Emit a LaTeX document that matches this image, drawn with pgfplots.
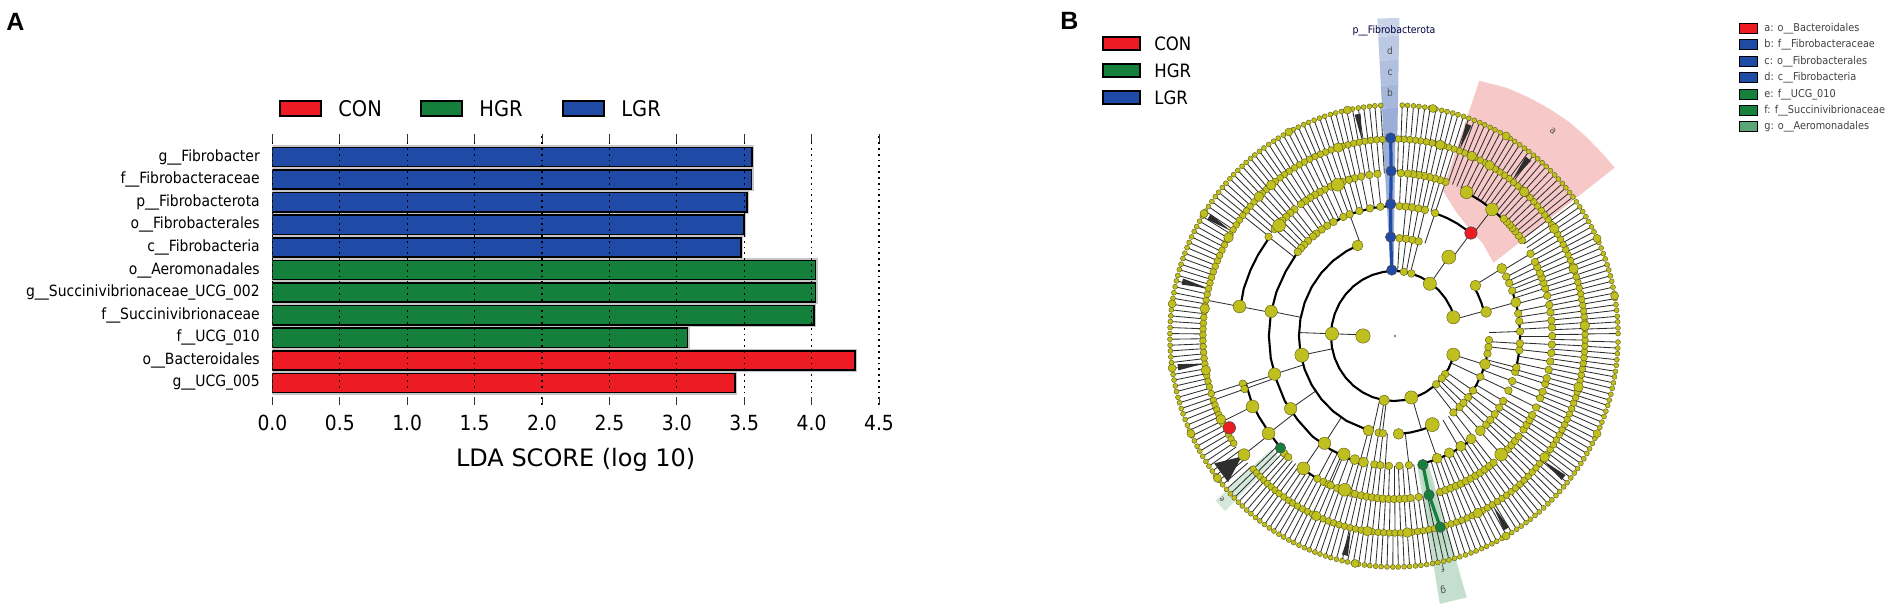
\documentclass[border=0pt]{standalone}
\usepackage{fontspec}
\setmainfont{DejaVu Sans Condensed}
\newfontfamily\panelfont{Liberation Sans}
\newfontfamily\regfont{DejaVu Sans}
\usepackage{pgfplots}
\pgfplotsset{compat=1.18}
\definecolor{con}{HTML}{ED1C24}
\definecolor{hgr}{HTML}{15803C}
\definecolor{lgr}{HTML}{1F4AA5}
\definecolor{yel}{HTML}{BFBF1F}
\definecolor{yeld}{HTML}{5A5A10}
\definecolor{pinkw}{HTML}{F6C8C8}
\definecolor{spk}{HTML}{2E2E2E}
\newcommand{\fs}[1]{\fontsize{#1}{#1}\selectfont}
\pgfplotsset{
 spoke/.style={spk,line width=0.42pt,forget plot,data cs=polar,mark=none},
 arcl/.style={black,line width=1.05pt,forget plot,data cs=polar,mark=none},
 nd/.style={only marks,forget plot,data cs=polar,mark=*,mark size=#1,mark options={fill=yel,draw=yeld,line width=0.2pt}},
 wedge/.style={draw=none,fill=#1,forget plot,data cs=polar,mark=none},
}
\newcommand{\spokes}[3]{%
 \edef\mylist{#3}%
 \edef\tmpb{\noexpand\pgfplotsforeachungrouped\noexpand\myang in {\mylist}}%
 \tmpb{\edef\tmp{\noexpand\addplot[spoke] coordinates {(\myang,#1)(\myang,#2)};}\tmp}}
\newcommand{\ring}[3]{%
 \def\buf{}%
 \edef\mylist{#3}%
 \edef\tmpb{\noexpand\pgfplotsforeachungrouped\noexpand\myang in {\mylist}}%
 \tmpb{\edef\buf{\buf (\myang,#1)}}%
 \edef\tmp{\noexpand\addplot[nd=#2] coordinates {\buf};}\tmp}
\newcommand{\fan}[3]{\addplot[draw=none,fill=spk,forget plot,data cs=polar,mark=none] coordinates {(#1,198)(#2,225)(#3,225)};}
% ring 7
\def\rseven{0.6,2,3.5,4.9,6.4,7.8,9.3,10.7,12.2,13.7,15.1,16.6,18,19.5,20.9,22.4,23.9,25.3,26.8,28.2,29.7,31.1,32.6,34,35.5,37,38.4,39.9,41.3,42.8,44.2,45.7,47.2,48.6,50.1,51.5,53,54.4,55.9,57.4,58.8,60.3,61.7,63.2,64.6,66.1,67.5,69,70.5,71.9,73.4,74.8,76.3,77.7,79.2,80.7,82.1,83.6,85,86.5,87.9,93.4,94.9,96.3,97.8,99.2,100.7,102.2,103.6,105.1,106.5,108,109.4,110.9,112.4,113.8,115.3,116.7,118.2,119.6,121.1,122.5,124,125.5,126.9,128.4,129.8,131.3,132.7,134.2,135.7,137.1,138.6,140,141.5,142.9,144.4,145.9,147.3,148.8,150.2,151.7,153.1,154.6,156.1,157.5,159,160.4,161.9,163.3,164.8,166.2,167.7,169.2,170.6,172.1,173.5,175,176.4,177.9,179.4,180.8,182.3,183.7,185.2,186.6,188.1,189.6,191,192.5,193.9,195.4,196.8,198.3,199.7,201.2,202.7,204.1,205.6,207,208.5,209.9,211.4,212.9,214.3,215.8,217.2,218.7,220.1,221.6,223.1,224.5,226,227.4,228.9,230.3,231.8,233.2,234.7,236.2,237.6,239.1,240.5,242,243.4,244.9,246.4,247.8,249.3,250.7,252.2,253.6,255.1,256.6,258,259.5,260.9,262.4,263.8,265.3,266.7,268.2,269.7,271.1,272.6,274,275.5,276.9,278.4,279.9,281.3,282.8,284.2,285.7,287.1,288.6,290.1,291.5,293,294.4,295.9,297.3,298.8,300.2,301.7,303.2,304.6,306.1,307.5,309,310.4,311.9,313.4,314.8,316.3,317.7,319.2,320.6,322.1,323.6,325,326.5,327.9,329.4,330.8,332.3,333.7,335.2,336.7,338.1,339.6,341,342.5,343.9,345.4,346.9,348.3,349.8,351.2,352.7,354.1,355.6,357,358.5}
% ring 6, with a spoke from ring 5
\def\rsixA{48,49.6,51.3,53,54.7,56.4,58,59.8,61.5,63.2,65,66.6,68.3,70,71.7,73.4,75,76.8,78.5,80.2,82,83.6,85.3,87,88.7,93.5,95.2,97,98.8,100.5,102.2,104,105.7,107.5,109.2,111,112.7,114.4,116.2,118,119.7,121.4,123.2,125,126.6,128.4,130.1,131.9,133.6,135.4,137.1,138.9,140.6,142.3,169.5,197,199,205.8,217.5,222.5,224,225.5,227,228.5,230,231.5,233,234.8,236.5,238,239.7,241.4,243.1,244.8,246.5,248.2,249.9,251.6,253.3,255,256.7,258.4,260.1,261.8,263.5,265.2,266.9,268.6,270.3,272,273.7,275.4,277.1,278.8,280.5,282.2,285.7,287.4,289.1,290.8,292.5,294.2,295.9,297.6,299.3,301,302.7,304.4,306.1,307.8,309.5,311.2,312.9,314.6,316.3,318,319.7,321.4,323.1,324.8,326.5,328.2,329.9,331.6,333.3,335,336.7,338.4,340.1,341.8,343.5,345.2,346.9,348.6,350.3,352,353.7,355.4,357.1,358.8,0.5,2.2,3.9,5.6,7.3,9,10.7,12.4,14.1,15.8,17.5,19.2,20.9,22.6,24.3,26,27.7,29.4,31.1,32.8,34.5,36.2,37.9,39.6,41.3,43,44.7,46.4}
% ring 6, no spoke
\def\rsixB{144,145.7,147.4,149.1,150.8,152.5,154.2,155.9,157.6,159.3,161,162.7,164.4,166.1,167.8,171.2,172.9,174.6,176.3,178,179.7,181.4,183.1,184.8,186.5,188.2,189.9,191.6,193.3,195,200.5,202,203.5,205,206.5,210,211.5,213}
\def\rfive{36,38,40,41.5,43,44.5,46,71,73,75,77,79,81,83,85,87.5,96,99,102,104.5,106.6,109,113.5,116,118,120,122,124,126,129,131,133,135,139,142.5,197,199,226,228,241,243.5,245.5,246.4,249,254,255.7,258,260,262,264,266,268,270,272,274,276,279,287,289,291,293,295,297,299,301,303,305,307,309,316,318,320,322,325,327,329,331,334,337.6,340,343,345,348,351,354,357,0,3,5.5,8.4,11,14.3,17,19,21,22.7,25,27,30.3}
\begin{document}
\begin{tikzpicture}
\path[use as bounding box] (0,0) rectangle (950.5pt,-306.5pt);

% ---------- panel A
\begin{axis}[at={(136.2pt,-202.5pt)},anchor=south west,scale only axis,
 width=303.3pt,height=135.5pt,
 xmin=0,xmax=4.5,ymin=-0.973,ymax=11.02,
 axis line style={draw=none},axis on top,
 xtick={0,0.5,1,1.5,2,2.5,3,3.5,4,4.5},
 xtick pos=both,tick align=inside,major tick length=4pt,
 xticklabel pos=lower,
 x tick style={black!80,line width=0.5pt},
 ytick={0,1,2,3,4,5,6,7,8,9,10},
 yticklabels={g\_\_UCG\_005,o\_\_Bacteroidales,f\_\_UCG\_010,f\_\_Succinivibrionaceae,g\_\_Succinivibrionaceae\_UCG\_002,o\_\_Aeromonadales,c\_\_Fibrobacteria,o\_\_Fibrobacterales,p\_\_Fibrobacterota,f\_\_Fibrobacteraceae,g\_\_Fibrobacter},
 y tick style={draw=none},
 xmajorgrids,grid style={dash pattern=on 0.9pt off 2pt,black,line width=0.6pt},
 y tick label style={font=\fs{7.75},xshift=-2.8pt},
 x tick label style={font=\fs{10.4},yshift=-1.5pt,/pgf/number format/fixed,/pgf/number format/fixed zerofill,/pgf/number format/precision=1,/pgf/number format/assume math mode=true},
 xlabel={LDA SCORE (log 10)},
 xlabel style={font=\regfont\fs{12},yshift=-2pt},
]
\addplot[xbar,bar width=0.85,bar shift=0pt,draw=gray!45,line width=2.2pt,fill=gray!45,forget plot] coordinates {(3.43,0)(4.32,1)(3.08,2)(4.02,3)(4.03,4)(4.03,5)(3.475,6)(3.50,7)(3.52,8)(3.555,9)(3.56,10)};
\addplot[xbar,bar width=0.85,bar shift=0pt,draw=black,line width=0.8pt,fill=con] coordinates {(3.43,0)(4.32,1)};
\addplot[xbar,bar width=0.85,bar shift=0pt,draw=black,line width=0.8pt,fill=hgr] coordinates {(3.08,2)(4.02,3)(4.03,4)(4.03,5)};
\addplot[xbar,bar width=0.85,bar shift=0pt,draw=black,line width=0.8pt,fill=lgr] coordinates {(3.475,6)(3.50,7)(3.52,8)(3.555,9)(3.56,10)};
\end{axis}

% ---------- panel B cladogram
\begin{axis}[at={(697pt,-168pt)},anchor=center,scale only axis,
 width=329.8pt,height=340pt,xmin=-340,xmax=340,ymin=-340,ymax=340,hide axis,clip=false]
% highlights
\addplot[wedge=pinkw] coordinates {(35.5,126)(45,130)(55,133)(63,140)(71,154)(71,270)(65,274)(60,276)(55,278)(50,280)(45,281)(40,282)(36.5,283)};
\addplot[wedge={hgr!25}] coordinates {(280.5,132)(285.5,132)(286,272)(280,272)};
\addplot[wedge={hgr!30}] coordinates {(281.5,132)(284.5,132)(285,215)(281,215)};
\addplot[wedge={hgr!18}] coordinates {(221.8,170)(225.2,170)(225.2,247)(221.8,247)};
\addplot[wedge={lgr!45}] coordinates {(90.4,66)(93,66)(93.3,200)(89.6,200)};
\addplot[wedge={lgr!45}] coordinates {(93.1,200)(89,200)(89,228)(93.1,228)};
\addplot[wedge={lgr!40}] coordinates {(93.1,228)(89,228)(89,251)(93.1,251)};
\addplot[wedge={lgr!35}] coordinates {(93.1,251)(89,251)(89,276)(93.1,276)};
\addplot[wedge={lgr!30}] coordinates {(93.1,276)(89,276)(89,300)(93.1,300)};
\addplot[wedge={lgr!24}] coordinates {(93.1,300)(89,300)(89,318)(93.1,318)};
% spokes ring 6 to 7
\spokes{197}{231}{\rseven}
% spokes ring 5 to 6
\spokes{163}{197}{\rsixA}
% fans
\fan{99.6}{98.8}{100.4}\fan{148}{147.2}{148.8}\fan{166}{165.2}{166.8}\fan{188}{187.2}{188.8}\fan{217.5}{214.5}{220.5}\fan{257}{256.2}{257.8}\fan{301}{300.2}{301.8}\fan{321}{320.2}{321.8}\fan{70}{69.2}{70.8}\fan{52}{51.1}{52.9}
% spokes ring 4 to 5
\spokes{130}{163}{71,73,75,77,79,81,83,85,87.5,96,99,102,104.5,106.6,109,111,113.5,116,118,120,122,124,126,129,131,133,135,137,139,142.5,169.5,197.5,199,217,234.8,241,243.5,245.5,246.4,249,251.7,254,255.7,258,260,262,264,266,268,270,272,274,276,279,287,289,291,293,295,297,299,301,303,305,307,309,313,316,318,320,322,325,327,329,331,334,337.6,340,343,345,348,351,354,357,0,3,5.5,8.4,11,14.3,17,19,21,22.7,25,27,30.3,51.4}
% spokes ring 3 to 4
\spokes{98}{130}{84.6,81.7,78.8,75.8,71,110.6,169,197.2,214.3,236.3,254.4,257,260.7,263.3,266,276.8,290,31.3,15,2,356.7,353.7,346,344,339.7,335.2,330,326.6,323,319.8,317,313.2,309,305,301,52.4}
% spokes ring 2 to 3
\spokes{65}{98}{54.5,178,191.4,286.8,257,261,263,86.7,82.7,78.8,75,308.7,313.6,317,321.3,326.2,335.4,343,15}
\spokes{33}{65}{178}
% thick arcs
\addplot[arcl] coordinates {(17,65)(25,65)(35,65)(45,65)(55,65)(65,65)(75,65)(85,65)(92,65)(100,65)(110,65)(120,65)(130,65)(140,65)(150,65)(160,65)(170,65)(180,65)(190,65)(200,65)(210,65)(220,65)(230,65)(240,65)(250,65)(260,65)(270,65)(280,65)(290,65)(300,65)(310,65)(320,65)(330,65)(343,65)};
\addplot[arcl] coordinates {(112.5,98)(120,98)(130,98)(140,98)(150,98)(160,98)(170,98)(180,98)(190,98)(200,98)(210,98)(220,98)(230,98)(240,98)(254.4,98)};
\addplot[arcl] coordinates {(272.7,98)(280,98)(287,98)(294,98)};
\addplot[arcl] coordinates {(14.2,96)(20,96)(26,96)(31,96)};
\addplot[arcl] coordinates {(308,98)(315,98)(322,98)(330,98)(337,98)(343.3,98)(350,98)(357.6,98)};
\addplot[arcl] coordinates {(92,130)(100,130)(110,130)(120,130)(130,130)(140,130)(150,129)(160,129)(170,129)(180,129)(190,129)(200,129)(210,130)(220,130)(230,131)(240,131)(252,132)};
\addplot[arcl] coordinates {(71,130)(65,130)(60,130)(52.4,130)};
\addplot[arcl] coordinates {(283,131)(290,131)(297,131)(307,131)};
\addplot[arcl] coordinates {(346,130)(353,130)(360,130)(366.5,130)(373,130)(380,130)};
\addplot[arcl] coordinates {(142.5,162)(150,162)(156,162)(163,162)(169.5,161)};
\addplot[arcl] coordinates {(197,160)(204,161)(210,161)(217,161)(224,162)(228,162)};
\addplot[arcl] coordinates {(234.8,163)(240,163)(246,163)(251,163)};
\addplot[arcl] coordinates {(62.5,162)(56,162)(50,162)(44,162)};
% nodes
\ring{231}{1.25pt}{\rseven}
\ring{231}{2pt}{172,188,205,218,260,300,335,10,25,102,118,148,60,80}
\ring{197}{1.7pt}{\rsixA}
\ring{197}{1.7pt}{\rsixB}
\ring{197}{2.4pt}{107,135,60,66,76,130,150,172,190,205,246,262,274,296,322,345,3,20,33,47}
\ring{195}{3pt}{217.5}
\ring{163}{1.9pt}{\rfive}
\ring{162}{3.2pt}{51.4,62.5,169.5,205.8,217,234.8,251.7,313,111,137}
\ring{130}{1.9pt}{87.5,84.6,81.7,78.8,75.8,71,96.2,101,106,110.6,113.7,118.7,122,125,128,130,133,135.5,137.6,139.7,261,263.8,267.7,272.4,276.8,317,319.8,323,326.6,330,335.2,339.7,344,346,353.7,356.7,2,6.5,20.4,24,27.2,10}
\ring{130}{2.5pt}{251.9,256,290,296,302,307.7,313.2,31.3,15}
\ring{129}{3.1pt}{169,197.2,214.3,236.3,246.4}
\ring{98}{1.9pt}{86.7,82.7,78.8,75,260.7,263.3,308.7,313.6,317,321.3,326.2,335.4,349.6,353.5,357.6}
\ring{98}{2.7pt}{14.2,112.5,254.4,272.7,343.3,31}
\ring{97}{3.5pt}{54.4,191.4,294}
\ring{65}{1.9pt}{81,74,324.2,319.3,312}
\ring{65}{2.6pt}{261}
\ring{64}{3.3pt}{54.7,17,343,286.2,178}
\ring{32}{3.6pt}{180}
\addplot[only marks,forget plot,mark=*,mark size=0.4pt,gray,data cs=polar] coordinates {(0,1)};
% coloured branches and nodes
\addplot[lgr,line width=1.6pt,forget plot,data cs=polar] coordinates {(92,66)(92,99)(91.5,132)(91,165)(91,198)};
\addplot[hgr,line width=1.6pt,forget plot,data cs=polar] coordinates {(283,132)(282.8,163)(284,197)};
\addplot[only marks,forget plot,data cs=polar,mark=*,mark size=2.6pt,mark options={fill=lgr,draw=black!70,line width=0.3pt}] coordinates {(92,66)(92,99)(91.5,132)(91,165)(91,198)};
\addplot[only marks,forget plot,data cs=polar,mark=*,mark size=2.6pt,mark options={fill=hgr,draw=black!70,line width=0.3pt}] coordinates {(283,132)(282.8,163)(284,197)(223.7,162)};
\addplot[only marks,forget plot,data cs=polar,mark=*,mark size=3.1pt,mark options={fill=con,draw=black!70,line width=0.3pt}] coordinates {(52.4,130)(208.4,193)};
\end{axis}

% ---------- legends and text, in pixels of the reference
\begin{scope}[x=0.5pt,y=-0.5pt]
\node[anchor=west,font=\panelfont\bfseries\fs{12.5},inner sep=0pt] at (6,22) {A};
\node[anchor=west,font=\panelfont\bfseries\fs{12.5},inner sep=0pt] at (1060,21) {B};
% legend A
\draw[black,line width=0.6pt,fill=con] (280,101) rectangle (321,116);
\draw[black,line width=0.6pt,fill=hgr] (421,101) rectangle (462,116);
\draw[black,line width=0.6pt,fill=lgr] (563,101) rectangle (604,116);
\node[anchor=west,font=\fs{10.8},inner sep=0pt] at (338,108.5) {CON};
\node[anchor=west,font=\fs{10.8},inner sep=0pt] at (479,108.5) {HGR};
\node[anchor=west,font=\fs{10.8},inner sep=0pt] at (621,108.5) {LGR};
% legend B left
\draw[black,line width=0.6pt,fill=con] (1103,37) rectangle (1140,50);
\draw[black,line width=0.6pt,fill=hgr] (1103,64) rectangle (1140,77);
\draw[black,line width=0.6pt,fill=lgr] (1103,91) rectangle (1140,104);
\node[anchor=west,font=\fs{9.2},inner sep=0pt] at (1154,44) {CON};
\node[anchor=west,font=\fs{9.2},inner sep=0pt] at (1154,71) {HGR};
\node[anchor=west,font=\fs{9.2},inner sep=0pt] at (1154,98) {LGR};
% legend B right
\draw[black,line width=0.5pt,fill=con] (1739,24) rectangle (1757,34);
\draw[black,line width=0.5pt,fill=lgr] (1739,40) rectangle (1757,50);
\draw[black,line width=0.5pt,fill=lgr] (1739,57) rectangle (1757,67);
\draw[black,line width=0.5pt,fill=lgr] (1739,73) rectangle (1757,83);
\draw[black,line width=0.5pt,fill=hgr] (1739,90) rectangle (1757,100);
\draw[black,line width=0.5pt,fill=hgr] (1739,106) rectangle (1757,116);
\draw[black,line width=0.5pt,fill=hgr!70] (1739,122) rectangle (1757,132);
\node[anchor=west,font=\fs{5.4},inner sep=0pt,text=black!75] at (1764,29) {a: o\_\_Bacteroidales};
\node[anchor=west,font=\fs{5.4},inner sep=0pt,text=black!75] at (1764,45) {b: f\_\_Fibrobacteraceae};
\node[anchor=west,font=\fs{5.4},inner sep=0pt,text=black!75] at (1764,62) {c: o\_\_Fibrobacterales};
\node[anchor=west,font=\fs{5.4},inner sep=0pt,text=black!75] at (1764,78) {d: c\_\_Fibrobacteria};
\node[anchor=west,font=\fs{5.4},inner sep=0pt,text=black!75] at (1764,95) {e: f\_\_UCG\_010};
\node[anchor=west,font=\fs{5.4},inner sep=0pt,text=black!75] at (1764,111) {f: f\_\_Succinivibrionaceae};
\node[anchor=west,font=\fs{5.4},inner sep=0pt,text=black!75] at (1764,127) {g: o\_\_Aeromonadales};
% cladogram labels
\node[font=\fs{5.2},text=black!75!blue,inner sep=0pt] at (1394,31) {p\_\_Fibrobacterota};
\node[font=\fs{5},text=black!70,inner sep=0pt] at (1390,51) {d};
\node[font=\fs{5},text=black!70,inner sep=0pt] at (1390,73) {c};
\node[font=\fs{5},text=black!70,inner sep=0pt] at (1390,93) {b};
\node[font=\fs{5},text=black!70,inner sep=0pt,rotate=-38] at (1553,131) {a};
\node[font=\fs{5},text=black!70,inner sep=0pt,rotate=190] at (1443,569) {f};
\node[font=\fs{5},text=black!70,inner sep=0pt,rotate=190] at (1443,590) {g};
\node[font=\fs{4},text=black!70,inner sep=0pt,rotate=135] at (1222,499) {e};
\end{scope}
\end{tikzpicture}
\end{document}
